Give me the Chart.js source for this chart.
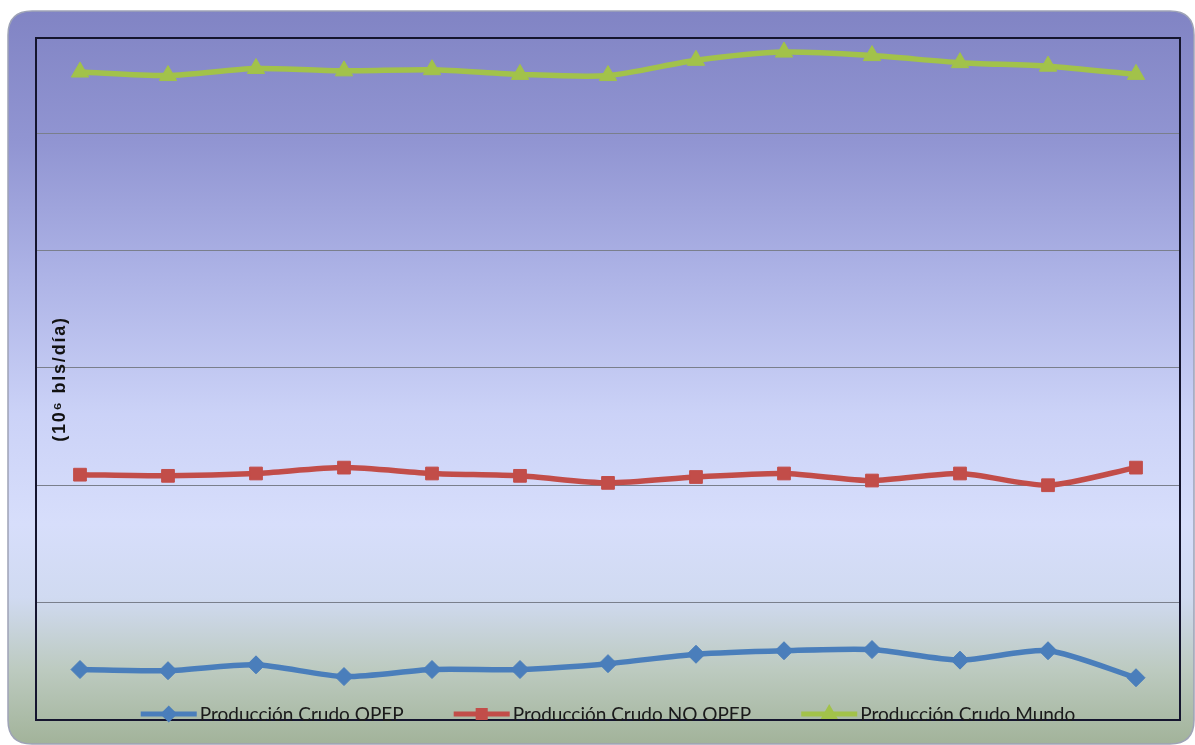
<!DOCTYPE html>
<html>
<head>
<meta charset="utf-8">
<script src="https://cdn.jsdelivr.net/npm/chart.js@4/dist/chart.umd.min.js"></script>
<style>
  html, body { margin: 0; padding: 0; background: #ffffff; }
  #wrap { width: 1195px; height: 745px; }
</style>
</head>
<body>
<div id="wrap"><canvas id="c" width="1195" height="745"></canvas></div>
<script>
// Periods (13 consecutive observations)
const periods = ['1', '2', '3', '4', '5', '6', '7', '8', '9', '10', '11', '12', '13'];

// Crude oil production, million barrels per day
const opep   = [34.3, 34.2, 34.7, 33.7, 34.3, 34.3, 34.8, 35.6, 35.9, 36.0, 35.1, 35.9, 33.6];
const noOpep = [50.9, 50.8, 51.0, 51.5, 51.0, 50.8, 50.2, 50.7, 51.0, 50.4, 51.0, 50.0, 51.5];
const mundo  = [85.2, 84.9, 85.5, 85.3, 85.4, 85.0, 84.9, 86.2, 86.9, 86.6, 86.0, 85.7, 85.0];

const seriesNames = ['Producción Crudo OPEP', 'Producción Crudo NO OPEP', 'Producción Crudo Mundo'];
const axisTitle = '(10\u2076 bls/día)';

// Value axis range
const yMin = 30;
const yMax = 88.1;
const yStep = 10;

const colBlue  = '#4a7ebb';
const colRed   = '#c24d49';
const colGreen = '#a2c24a';

// Rounded panel with vertical gradient behind everything
const panelPlugin = {
  id: 'panel',
  beforeDraw(chart) {
    const ctx = chart.ctx;
    ctx.save();
    ctx.fillStyle = '#ffffff';
    ctx.fillRect(0, 0, chart.width, chart.height);
    const x = 8, y = 11, w = 1186, h = 733, r = 24;
    const g = ctx.createLinearGradient(0, y, 0, y + h);
    g.addColorStop(0.00, '#8184c4');
    g.addColorStop(0.18, '#9195d2');
    g.addColorStop(0.36, '#adb3e6');
    g.addColorStop(0.55, '#cbd2f7');
    g.addColorStop(0.70, '#d7defb');
    g.addColorStop(0.80, '#d0daf1');
    g.addColorStop(0.90, '#bccabf');
    g.addColorStop(1.00, '#a2b39a');
    ctx.beginPath();
    ctx.moveTo(x + r, y);
    ctx.lineTo(x + w - r, y);
    ctx.quadraticCurveTo(x + w, y, x + w, y + r);
    ctx.lineTo(x + w, y + h - r);
    ctx.quadraticCurveTo(x + w, y + h, x + w - r, y + h);
    ctx.lineTo(x + r, y + h);
    ctx.quadraticCurveTo(x, y + h, x, y + h - r);
    ctx.lineTo(x, y + r);
    ctx.quadraticCurveTo(x, y, x + r, y);
    ctx.closePath();
    ctx.fillStyle = g;
    ctx.fill();
    ctx.lineWidth = 1.5;
    ctx.strokeStyle = '#9ea3b6';
    ctx.stroke();
    ctx.restore();
  }
};

// Plot frame, axis title and legend drawn on top
const overlayPlugin = {
  id: 'overlay',
  afterDraw(chart) {
    const ctx = chart.ctx;
    const a = chart.chartArea;
    ctx.save();
    // plot-area frame
    ctx.strokeStyle = '#15152e';
    ctx.lineWidth = 2;
    ctx.strokeRect(a.left, a.top, a.right - a.left, a.bottom - a.top);

    // rotated value-axis title inside the plot area
    ctx.save();
    ctx.translate(a.left + 24, (a.top + a.bottom) / 2);
    ctx.rotate(-Math.PI / 2);
    ctx.font = 'bold 18px "Liberation Sans", Arial, sans-serif';
    ctx.letterSpacing = '1.8px';
    ctx.fillStyle = '#111111';
    ctx.textAlign = 'center';
    ctx.textBaseline = 'middle';
    ctx.fillText(axisTitle, 0, 0);
    ctx.restore();

    // legend along the bottom edge
    ctx.font = '19px Lato, "Liberation Sans", sans-serif';
    const lineLen = 56, textGap = 3, itemGap = 50;
    const items = chart.data.datasets.map(ds => ({
      ds, w: lineLen + textGap + ctx.measureText(ds.label).width
    }));
    const total = items.reduce((s, it) => s + it.w, 0) + itemGap * (items.length - 1);
    let x = (a.left + a.right) / 2 - total / 2;
    const ly = a.bottom - 6;
    items.forEach(it => {
      const ds = it.ds;
      ctx.strokeStyle = ds.borderColor;
      ctx.lineWidth = 5;
      ctx.beginPath();
      ctx.moveTo(x, ly);
      ctx.lineTo(x + lineLen, ly);
      ctx.stroke();
      ctx.fillStyle = ds.pointBackgroundColor;
      ctx.strokeStyle = ds.pointBorderColor;
      Chart.helpers.drawPoint(ctx, {
        pointStyle: ds.pointStyle, radius: 5,
        rotation: 0, borderWidth: 1
      }, x + lineLen / 2, ly);
      ctx.fillStyle = '#1a1a1a';
      ctx.textAlign = 'left';
      ctx.textBaseline = 'middle';
      ctx.fillText(ds.label, x + lineLen + textGap, ly + 1);
      x += it.w + itemGap;
    });
    ctx.restore();
  }
};

const mk = (label, data, color, style, radius) => ({
  label, data,
  borderColor: color,
  backgroundColor: color,
  pointBackgroundColor: color,
  pointBorderColor: color,
  pointStyle: style,
  pointRadius: radius,
  pointHoverRadius: radius,
  pointBorderWidth: 1,
  borderWidth: 5.5,
  tension: 0.25,
  fill: false
});

new Chart(document.getElementById('c'), {
  type: 'line',
  data: {
    labels: periods,
    datasets: [
      mk(seriesNames[0], opep,   colBlue,  'rectRot', 9),
      mk(seriesNames[1], noOpep, colRed,   'rect',    9),
      mk(seriesNames[2], mundo,  colGreen, 'triangle', 10)
    ]
  },
  options: {
    responsive: false,
    animation: false,
    layout: { padding: { left: 36, right: 15, top: 38, bottom: 25 } },
    plugins: {
      legend: { display: false },
      tooltip: { enabled: false }
    },
    scales: {
      x: {
        type: 'category',
        offset: true,
        display: false
      },
      y: {
        min: yMin,
        max: yMax,
        ticks: { display: false, stepSize: yStep },
        border: { display: false },
        grid: {
          drawTicks: false,
          lineWidth: 1,
          color: c => (c.tick && c.tick.value > yMin && Math.abs(c.tick.value % yStep) < 1e-6) ? '#7a7f8c' : 'rgba(0,0,0,0)'
        }
      }
    }
  },
  plugins: [panelPlugin, overlayPlugin]
});
</script>
</body>
</html>
